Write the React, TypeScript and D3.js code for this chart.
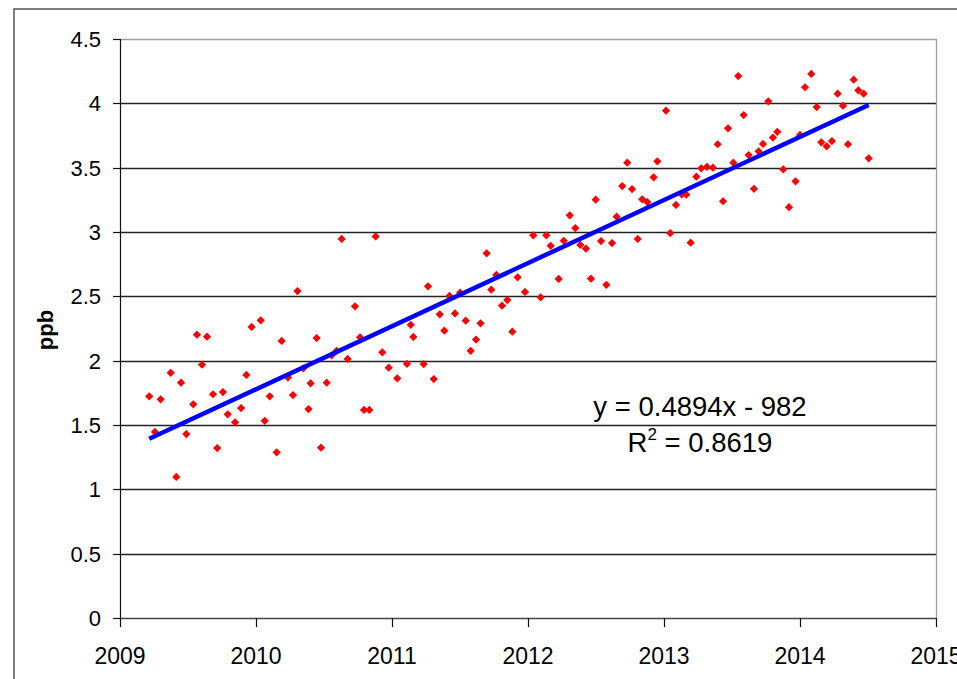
import React from "react";
import * as d3 from "d3";

const years: number[] = [
  2009.215, 2009.257, 2009.299, 2009.373, 2009.414, 2009.449, 2009.488, 2009.539, 2009.566, 2009.603,
  2009.64, 2009.684, 2009.715, 2009.757, 2009.792, 2009.846, 2009.89, 2009.929, 2009.968, 2010.035,
  2010.064, 2010.101, 2010.152, 2010.189, 2010.235, 2010.272, 2010.305, 2010.348, 2010.386, 2010.402,
  2010.446, 2010.478, 2010.52, 2010.557, 2010.593, 2010.63, 2010.674, 2010.728, 2010.765, 2010.794,
  2010.833, 2010.88, 2010.929, 2010.976, 2011.039, 2011.11, 2011.138, 2011.157, 2011.233, 2011.265,
  2011.307, 2011.351, 2011.385, 2011.423, 2011.463, 2011.501, 2011.542, 2011.579, 2011.618, 2011.651,
  2011.696, 2011.73, 2011.767, 2011.809, 2011.848, 2011.885, 2011.924, 2011.978, 2012.039, 2012.093,
  2012.135, 2012.167, 2012.226, 2012.263, 2012.307, 2012.348, 2012.385, 2012.426, 2012.463, 2012.498,
  2012.537, 2012.576, 2012.618, 2012.652, 2012.693, 2012.73, 2012.765, 2012.807, 2012.84, 2012.877,
  2012.924, 2012.951, 2013.015, 2013.046, 2013.088, 2013.13, 2013.164, 2013.196, 2013.238, 2013.274,
  2013.316, 2013.36, 2013.395, 2013.434, 2013.471, 2013.51, 2013.546, 2013.586, 2013.623, 2013.662,
  2013.696, 2013.728, 2013.767, 2013.801, 2013.833, 2013.877, 2013.919, 2013.967, 2014.0, 2014.037,
  2014.083, 2014.123, 2014.157, 2014.196, 2014.235, 2014.277, 2014.316, 2014.353, 2014.395, 2014.429,
  2014.468, 2014.505,
];

const ppb: number[] = [
  1.723, 1.446, 1.7, 1.906, 1.096, 1.829, 1.43, 1.661, 2.202, 1.969,
  2.186, 1.739, 1.321, 1.756, 1.583, 1.521, 1.632, 1.889, 2.262, 2.314,
  1.533, 1.723, 1.288, 2.153, 1.869, 1.733, 2.541, 1.941, 1.624, 1.824,
  2.176, 1.324, 1.829, 2.042, 2.077, 2.946, 2.013, 2.422, 2.182, 1.617,
  1.617, 2.966, 2.065, 1.945, 1.863, 1.976, 2.279, 2.184, 1.974, 2.578,
  1.857, 2.36, 2.233, 2.503, 2.367, 2.528, 2.311, 2.077, 2.164, 2.29,
  2.834, 2.552, 2.666, 2.427, 2.471, 2.225, 2.648, 2.534, 2.974, 2.492,
  2.974, 2.893, 2.635, 2.932, 3.13, 3.031, 2.899, 2.87, 2.637, 3.251,
  2.93, 2.59, 2.914, 3.119, 3.357, 3.539, 3.334, 2.946, 3.254, 3.233,
  3.425, 3.549, 3.943, 2.992, 3.21, 3.293, 3.29, 2.917, 3.43, 3.495,
  3.507, 3.5, 3.682, 3.239, 3.806, 3.539, 4.212, 3.909, 3.598, 3.336,
  3.627, 3.684, 4.016, 3.734, 3.779, 3.487, 3.193, 3.394, 3.754, 4.125,
  4.228, 3.971, 3.697, 3.666, 3.707, 4.075, 3.982, 3.682, 4.184, 4.101,
  4.075, 3.573,
];

const xTicks: number[] = [2009, 2010, 2011, 2012, 2013, 2014, 2015];
const yTicks: number[] = [0, 0.5, 1, 1.5, 2, 2.5, 3, 3.5, 4, 4.5];
const yTitle = "ppb";
const eqText = "y = 0.4894x - 982";
const r2Value = "0.8619";

const W = 957;
const H = 679;
const M = { left: 120, right: 936, top: 39, bottom: 618 };
const FONT = "'Liberation Sans', Arial, sans-serif";

export default function App() {
  const x = d3.scaleLinear().domain([2009, 2015]).range([M.left, M.right]);
  const y = d3.scaleLinear().domain([0, 4.5]).range([M.bottom, M.top]);

  // least-squares trend line from the data
  const mx = d3.mean(years) as number;
  const my = d3.mean(ppb) as number;
  let sxy = 0;
  let sxx = 0;
  years.forEach((v, i) => {
    sxy += (v - mx) * (ppb[i] - my);
    sxx += (v - mx) * (v - mx);
  });
  const slope = sxy / sxx;
  const x0 = d3.min(years) as number;
  const x1 = d3.max(years) as number;
  const trend: [number, number][] = [
    [x0, my + slope * (x0 - mx)],
    [x1, my + slope * (x1 - mx)],
  ];
  const line = d3
    .line<[number, number]>()
    .x((d) => x(d[0]))
    .y((d) => y(d[1]));

  const diamond = d3.symbol().type(d3.symbolSquare).size(34)() as string;

  return (
    <svg
      width={W}
      height={H}
      style={{ position: "absolute", left: 0, top: 0, background: "#fff" }}
      fontFamily={FONT}
    >
      <rect x={0} y={0} width={W} height={H} fill="#fff" />
      {/* outer chart frame */}
      <rect x={14} y={9} width={1200} height={1200} fill="none" stroke="#555" strokeWidth={1.5} />

      {/* horizontal gridlines */}
      {yTicks.map((t) => (
        <line
          key={"g" + t}
          x1={M.left}
          x2={M.right}
          y1={Math.round(y(t)) + 0.5}
          y2={Math.round(y(t)) + 0.5}
          stroke={t === 4.5 ? "#a0a0a0" : t === 0 ? "#444" : "#222"}
          strokeWidth={t === 0 ? 1.6 : 1.3}
        />
      ))}
      {/* right plot border */}
      <line x1={M.right + 0.5} x2={M.right + 0.5} y1={M.top} y2={M.bottom} stroke="#a0a0a0" strokeWidth={1.3} />
      {/* y axis */}
      <line x1={M.left + 0.5} x2={M.left + 0.5} y1={M.top} y2={M.bottom + 1} stroke="#111" strokeWidth={1.2} />
      {yTicks.map((t) => (
        <g key={"yt" + t}>
          <line x1={M.left - 7} x2={M.left} y1={Math.round(y(t)) + 0.5} y2={Math.round(y(t)) + 0.5} stroke="#111" strokeWidth={1.2} />
          <text x={M.left - 19} y={y(t)} dy="0.36em" textAnchor="end" fontSize={22} fill="#000">
            {String(t)}
          </text>
        </g>
      ))}
      {/* x axis ticks */}
      {xTicks.map((t) => (
        <g key={"xt" + t}>
          <line x1={Math.round(x(t)) + 0.5} x2={Math.round(x(t)) + 0.5} y1={M.bottom} y2={M.bottom + 9} stroke="#111" strokeWidth={1.2} />
          <text x={x(t)} y={664} textAnchor="middle" fontSize={23} fill="#000">
            {String(t)}
          </text>
        </g>
      ))}

      {/* y title */}
      <text
        transform={`translate(53,330) rotate(-90)`}
        textAnchor="middle"
        fontSize={22}
        fontWeight="bold"
        fill="#000"
      >
        {yTitle}
      </text>

      {/* points */}
      {years.map((v, i) => (
        <path
          key={"p" + i}
          d={diamond}
          transform={`translate(${x(v)},${y(ppb[i])}) rotate(45)`}
          fill="#ff0000"
        />
      ))}

      {/* trend line */}
      <path d={line(trend) as string} fill="none" stroke="#0000ff" strokeWidth={4.5} />

      {/* equation */}
      <text x={700} y={416} textAnchor="middle" fontSize={27.5} fill="#000">
        {eqText}
      </text>
      <text x={700} y={452} textAnchor="middle" fontSize={27.5} fill="#000">
        R<tspan fontSize={17} dy={-12}>2</tspan>
        <tspan dy={12}>{" = " + r2Value}</tspan>
      </text>
    </svg>
  );
}
